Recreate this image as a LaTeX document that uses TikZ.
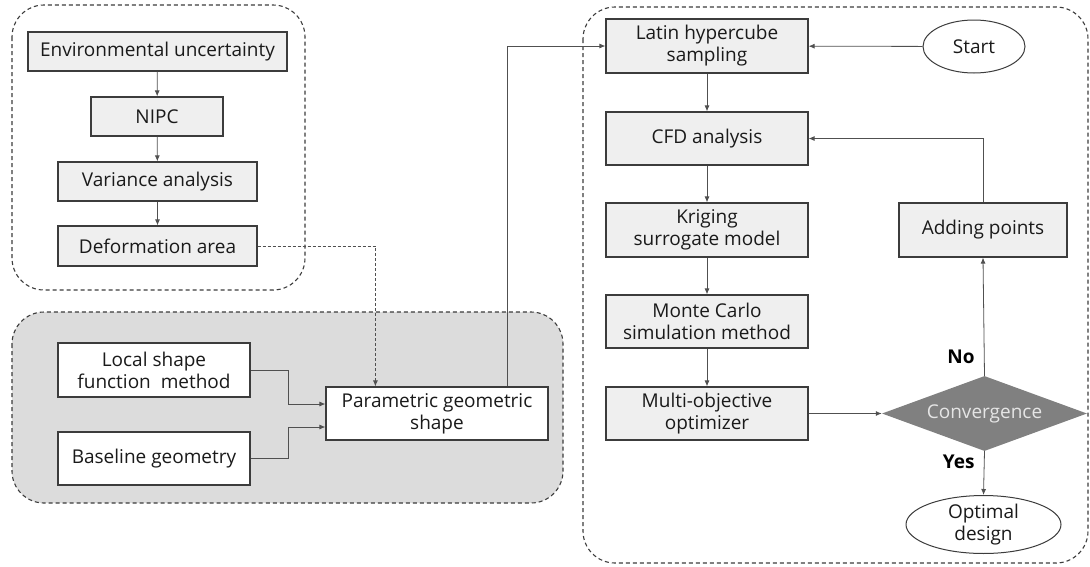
\documentclass[tikz,border=0pt]{standalone}
\usepackage{fontspec}
\setmainfont{Open Sans}
\usetikzlibrary{shapes.geometric,arrows.meta}
\definecolor{boxfill}{HTML}{EFEFEF}
\definecolor{bgfill}{HTML}{DCDCDC}
\definecolor{edgeclr}{HTML}{3C3C3C}
\definecolor{lineclr}{HTML}{505050}
\definecolor{diafill}{HTML}{808080}
\definecolor{txtclr}{HTML}{1A1A1A}
\tikzset{
  every node/.style={font=\fontsize{19}{22}\selectfont, text=txtclr},
  graybox/.style={draw=edgeclr, line width=1.2pt, fill=boxfill, inner sep=0pt, align=center},
  whitebox/.style={graybox, fill=white},
  ovalbox/.style={ellipse, draw=edgeclr, line width=1pt, fill=white, inner sep=0pt, align=center},
  conn/.style={draw=lineclr, line width=0.8pt, -{Latex[length=6pt,width=5pt]}},
  dconn/.style={conn, dash pattern=on 3pt off 2pt},
  grp/.style={draw=edgeclr, line width=1.1pt, dash pattern=on 4pt off 3pt, rounded corners=32pt},
  lbl/.style={font=\fontsize{19}{22}\selectfont\bfseries, text=black},
}
\begin{document}
\begin{tikzpicture}[x=1pt,y=-1pt]
\useasboundingbox (0,0) rectangle (1090,566);
% groups
\draw[grp] (12,5) rectangle (305,290);
\draw[grp, fill=bgfill] (12,312) rectangle (563,503);
\draw[grp] (583,7) rectangle (1088,563);
% left column
\node[graybox, minimum width=259pt, minimum height=39pt] (env) at (157.5,51.5) {Environmental uncertainty};
\node[graybox, minimum width=132pt, minimum height=39pt] (nipc) at (157,116.5) {NIPC};
\node[graybox, minimum width=199pt, minimum height=39pt] (var) at (157.5,181.5) {Variance analysis};
\node[graybox, minimum width=199pt, minimum height=40pt] (def) at (157.5,246) {Deformation area};
\node[whitebox, minimum width=192pt, minimum height=54pt] (local) at (154,370) {Local shape\\function\ \ method};
\node[whitebox, minimum width=192pt, minimum height=53pt] (base) at (154,458.5) {Baseline geometry};
\node[whitebox, minimum width=222pt, minimum height=53pt] (param) at (437,413.5) {Parametric geometric\\shape};
% right column
\node[graybox, minimum width=202pt, minimum height=54pt] (latin) at (707,46) {Latin hypercube\\sampling};
\node[graybox, minimum width=202pt, minimum height=53pt] (cfd) at (707,138.5) {CFD analysis};
\node[graybox, minimum width=202pt, minimum height=54pt] (krig) at (707,230) {Kriging\\surrogate model};
\node[graybox, minimum width=202pt, minimum height=53pt] (mc) at (707,321.5) {Monte Carlo\\simulation method};
\node[graybox, minimum width=202pt, minimum height=53pt] (mo) at (707,413.5) {Multi-objective\\optimizer};
\node[ovalbox, minimum width=102pt, minimum height=53pt] (start) at (974,46.5) {Start};
\node[graybox, minimum width=168pt, minimum height=54pt] (add) at (983,230) {Adding points};
\node[diamond, fill=diafill, inner sep=0pt, aspect=2.73, minimum width=205pt, minimum height=75pt, text=white!90!black] (conv) at (984.5,413.5) {Convergence};
\node[ovalbox, minimum width=155pt, minimum height=51pt] (opt) at (983.5,524.5) {Optimal\\design};
% connectors
\draw[conn] (env) -- (nipc);
\draw[conn] (nipc) -- (var);
\draw[conn] (var) -- (def);
\draw[dconn] (def.east) -| ([xshift=50pt]param.north west);
\draw[conn] (local.east) -- ++(38pt,0) |- ([yshift=9.5pt]param.west);
\draw[conn] (base.east) -- ++(38pt,0) |- ([yshift=-13.5pt]param.west);
\draw[conn] ([xshift=-41pt]param.north east) |- (latin.west);
\draw[conn] (start) -- (latin);
\draw[conn] (latin) -- (cfd);
\draw[conn] (cfd) -- (krig);
\draw[conn] (krig) -- (mc);
\draw[conn] (mc) -- (mo);
\draw[conn] (mo) -- (conv);
\draw[conn] (conv.north) -- node[pos=0.16, left=6pt, lbl] (nolbl) {No} (add.south);
\draw[conn] (add.north) |- (cfd.east);
\draw[conn] (conv.south) -- node[pos=0.25, left=6pt, lbl] (yeslbl) {Yes} (opt.north);
\end{tikzpicture}
\end{document}
